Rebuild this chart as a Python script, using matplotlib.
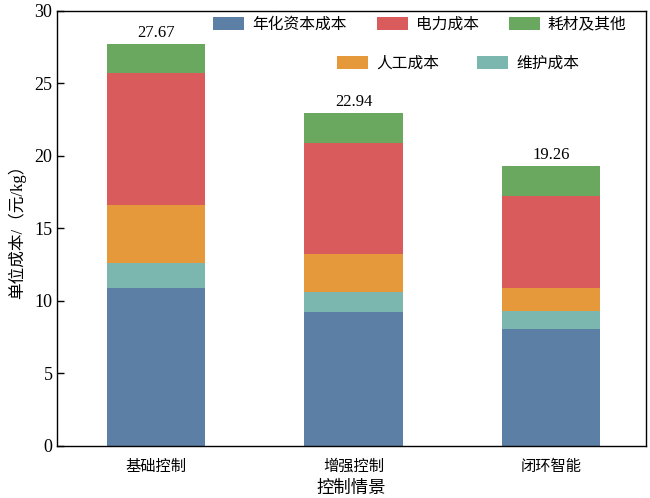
import matplotlib
matplotlib.use("Agg")
import matplotlib.pyplot as plt
from matplotlib.patches import Patch
import numpy as np

plt.rcParams['font.family'] = ['Liberation Serif', 'Noto Sans CJK SC', 'DejaVu Sans']

scenarios = ['基础控制', '增强控制', '闭环智能']
series_names = ['年化资本成本', '维护成本', '人工成本', '电力成本', '耗材及其他']
capital = [10.90, 9.22, 8.02]
maintenance = [1.68, 1.40, 1.27]
labor = [4.03, 2.60, 1.61]
power = [9.06, 7.65, 6.33]
consumables = [2.00, 2.07, 2.03]
totals = [27.67, 22.94, 19.26]
yticks = [0, 5, 10, 15, 20, 25, 30]

colors = ['#5B7FA5', '#7BB7AE', '#E5993B', '#D95B5C', '#6BA85F']
series = [capital, maintenance, labor, power, consumables]

fig = plt.figure(figsize=(6.5, 4.98), dpi=100)
ax = fig.add_axes([0.0882, 0.1054, 0.9052, 0.8731])

x = np.arange(len(scenarios))
bottom = np.zeros(len(scenarios))
handles = {}
for name, vals, c in zip(series_names, series, colors):
    ax.bar(x, vals, width=0.5, bottom=bottom, color=c, edgecolor='none', label=name)
    handles[name] = Patch(facecolor=c, edgecolor='none')
    bottom += np.array(vals)

for xi, t in zip(x, totals):
    ax.annotate(f'{t:.2f}', xy=(xi, t), xytext=(0, 2.5), textcoords='offset points',
                ha='center', va='bottom', fontsize=12)

ax.set_xlim(-0.5, 2.48)
ax.set_ylim(0, 30)
ax.set_yticks(yticks)
ax.set_xticks(x)
ax.set_xticklabels(scenarios, fontsize=11)
ax.tick_params(axis='y', direction='in', length=5, width=1, labelsize=13)
ax.tick_params(axis='x', length=0, pad=10)
ax.set_xlabel('控制情景', fontsize=12.5, labelpad=5)
ax.set_ylabel('单位成本/（元/kg）', fontsize=12, labelpad=6)
for s in ax.spines.values():
    s.set_linewidth(1.0)
    s.set_color('black')

leg_kw = dict(frameon=False, fontsize=11.3, handlelength=2.0, handleheight=0.94,
              handletextpad=0.5, columnspacing=1.9, borderpad=0, borderaxespad=0,
              loc='center left')
row1 = ['年化资本成本', '电力成本', '耗材及其他']
row2 = ['人工成本', '维护成本']
leg1 = ax.legend([handles[n] for n in row1], row1, ncol=3,
                 bbox_to_anchor=(0.2646, 0.9676), **leg_kw)
ax.add_artist(leg1)
leg_kw2 = dict(leg_kw)
leg_kw2['columnspacing'] = 2.4
ax.legend([handles[n] for n in row2], row2, ncol=2,
          bbox_to_anchor=(0.4754, 0.8776), **leg_kw2)

fig.savefig('out.png', dpi=100)
